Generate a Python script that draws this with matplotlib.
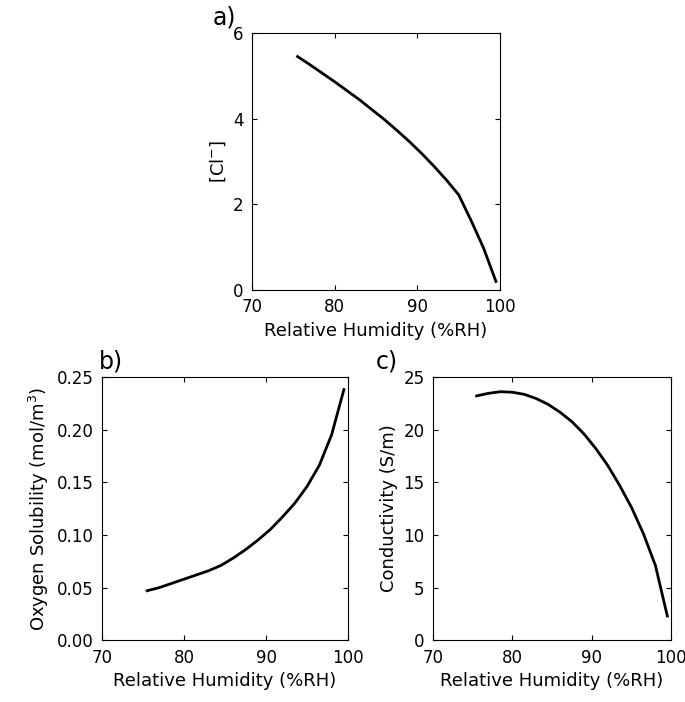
import matplotlib
matplotlib.use("Agg")
import matplotlib.pyplot as plt

# values
rh_cl = [75.5, 77, 78.5, 80, 81.5, 83, 84.5, 86, 87.5, 89, 90.5, 92, 93.5, 95, 96.5, 98, 99.5]
cl = [5.45, 5.26, 5.06, 4.86, 4.65, 4.44, 4.21, 3.98, 3.73, 3.47, 3.19, 2.89, 2.57, 2.22, 1.84, 1.42, 0.2 + 0.75]
cl[-1] = 0.2  # end point
cl[-2] = 0.98
cl[-3] = 1.62

rh_o2 = [75.5, 77, 78.5, 80, 81.5, 83, 84.5, 86, 87.5, 89, 90.5, 92, 93.5, 95, 96.5, 98, 99.5]
o2 = [0.047, 0.050, 0.054, 0.058, 0.062, 0.066, 0.071, 0.078, 0.086, 0.095, 0.105, 0.117, 0.130, 0.146, 0.166, 0.195, 0.238]

rh_k = [75.5, 77, 78.5, 80, 81.5, 83, 84.5, 86, 87.5, 89, 90.5, 92, 93.5, 95, 96.5, 98, 99.5]
cond = [23.2, 23.45, 23.6, 23.55, 23.35, 22.95, 22.4, 21.65, 20.75, 19.6, 18.2, 16.6, 14.7, 12.6, 10.1, 7.1, 2.3]

plt.rcParams["font.size"] = 13
fig = plt.figure(figsize=(6.85, 7.02), dpi=100)

ax_a = fig.add_axes([0.368, 0.587, 0.362, 0.366])
ax_b = fig.add_axes([0.149, 0.088, 0.359, 0.375])
ax_c = fig.add_axes([0.632, 0.088, 0.348, 0.375])

panels = [
    (ax_a, rh_cl, cl, (0, 6), [0, 2, 4, 6], "[Cl$^{-}$]", None),
    (ax_b, rh_o2, o2, (0, 0.25), [0, 0.05, 0.10, 0.15, 0.20, 0.25],
     "Oxygen Solubility (mol/m$^3$)", "{:.2f}"),
    (ax_c, rh_k, cond, (0, 25), [0, 5, 10, 15, 20, 25], "Conductivity (S/m)", None),
]
for ax, x, y, ylim, yt, ylab, fmt in panels:
    ax.plot(x, y, color="black", linewidth=2)
    ax.set_xlim(70, 100)
    ax.set_ylim(*ylim)
    ax.set_xticks([70, 80, 90, 100])
    ax.set_yticks(yt)
    if fmt:
        ax.set_yticklabels([fmt.format(v) for v in yt])
    ax.set_xlabel("Relative Humidity (%RH)")
    ax.set_ylabel(ylab)
    ax.tick_params(direction="in", top=True, right=True, labelsize=12, pad=6)

fig.text(0.31, 0.965, "a)", fontsize=17)
fig.text(0.145, 0.475, "b)", fontsize=17)
fig.text(0.548, 0.475, "c)", fontsize=17)

fig.savefig("out.png", dpi=100)
